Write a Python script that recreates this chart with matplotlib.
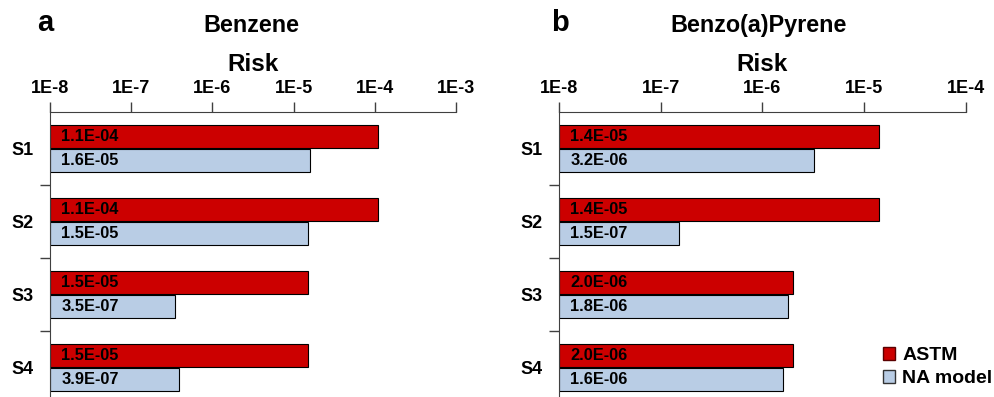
import matplotlib.pyplot as plt
import numpy as np
from matplotlib.patches import Patch
from matplotlib.ticker import FixedLocator, FuncFormatter

plt.rcParams["font.family"] = ["Liberation Sans", "DejaVu Sans"]
plt.rcParams["font.weight"] = "bold"

sites = ["S1", "S2", "S3", "S4"]

benzene_astm = [1.1e-4, 1.1e-4, 1.5e-5, 1.5e-5]
benzene_na = [1.6e-5, 1.5e-5, 3.5e-7, 3.9e-7]

bap_astm = [1.4e-5, 1.4e-5, 2.0e-6, 2.0e-6]
bap_na = [3.2e-6, 1.5e-7, 1.8e-6, 1.6e-6]

red = "#CC0000"
blue = "#B9CDE5"

fig = plt.figure(figsize=(9.95, 3.97), dpi=100)

panels = [
    ("a", "Benzene", benzene_astm, benzene_na, (-8, -3),
     [0.0503, -0.0176, 0.408, 0.7355], 0.045, 0.253),
    ("b", "Benzo(a)Pyrene", bap_astm, bap_na, (-8, -4),
     [0.5618, -0.0176, 0.409, 0.7355], 0.5625, 0.7625),
]

y = np.arange(len(sites))
h = 0.315
off = 0.164

for letter, title, astm, na, (lo, hi), pos, lx, tx in panels:
    ax = fig.add_axes(pos)
    ax.set_xscale("log")
    ax.set_xlim(10.0**lo, 10.0**hi)
    ax.set_ylim(3.5, -0.5)

    ax.barh(y - off, np.array(astm) - 10.0**lo, left=10.0**lo, height=h,
            color=red, edgecolor="black", linewidth=0.8)
    ax.barh(y + off, np.array(na) - 10.0**lo, left=10.0**lo, height=h,
            color=blue, edgecolor="black", linewidth=0.8)

    for yi, a, n in zip(y, astm, na):
        ax.annotate(f"{a:.1E}", (10.0**lo, yi - off),
                    xytext=(8, 0), textcoords="offset points",
                    va="center", ha="left", fontsize=11.8, fontweight="bold")
        ax.annotate(f"{n:.1E}", (10.0**lo, yi + off),
                    xytext=(8, 0), textcoords="offset points",
                    va="center", ha="left", fontsize=11.8, fontweight="bold")

    ax.xaxis.tick_top()
    ax.xaxis.set_major_locator(FixedLocator([10.0**k for k in range(lo, hi + 1)]))
    ax.xaxis.set_minor_locator(FixedLocator([]))
    ax.xaxis.set_major_formatter(FuncFormatter(lambda v, p: f"1E{int(round(np.log10(v)))}"))
    ax.tick_params(axis="x", which="major", length=7, width=1, color="#404040",
                   labelsize=13, pad=4)
    ax.set_xlabel("Risk", fontsize=17.5, fontweight="bold", labelpad=6)
    ax.xaxis.set_label_position("top")

    ax.set_yticks(y)
    ax.set_yticklabels(sites, fontsize=13, fontweight="bold")
    ax.yaxis.set_minor_locator(FixedLocator([0.5, 1.5, 2.5]))
    ax.tick_params(axis="y", which="major", length=0, pad=12)
    ax.tick_params(axis="y", which="minor", length=7, width=1, color="#404040")

    ax.spines[["right", "bottom"]].set_visible(False)
    ax.spines[["top", "left"]].set_color("#404040")

    fig.text(tx, 0.937, title, ha="center", va="center", fontsize=16.8, fontweight="bold")
    fig.text(lx, 0.943, letter, ha="center", va="center", fontsize=21, fontweight="bold")

handles = [Patch(facecolor=red, edgecolor="#5a0000", label="ASTM"),
           Patch(facecolor=blue, edgecolor="#333333", label="NA model")]
fig.legend(handles=handles, loc="lower right", bbox_to_anchor=(1.009, -0.005),
           frameon=False, fontsize=14, handlelength=0.65, handleheight=0.65,
           handletextpad=0.35, labelspacing=0.3, borderaxespad=0.2)

fig.savefig("out.png", dpi=100)
